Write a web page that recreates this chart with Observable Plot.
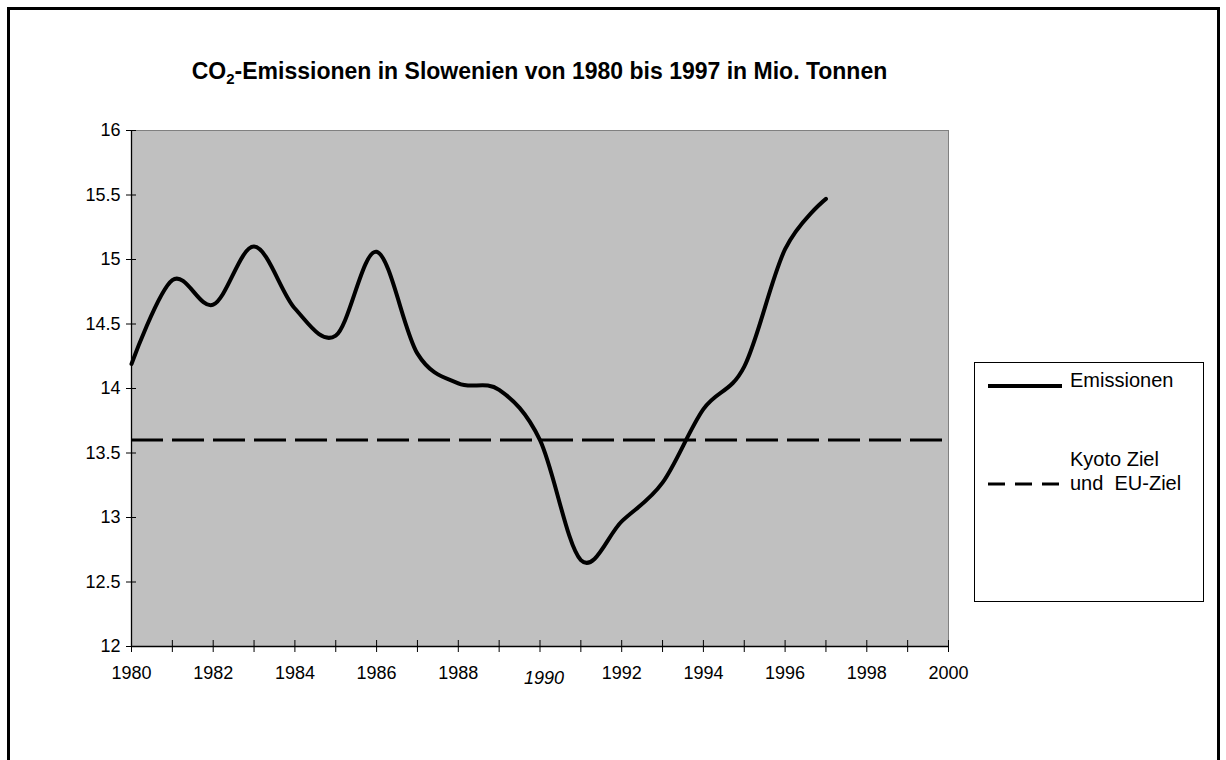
<!DOCTYPE html>
<html><head><meta charset="utf-8">
<script src="https://cdn.jsdelivr.net/npm/d3@7"></script>
<script src="https://cdn.jsdelivr.net/npm/@observablehq/plot@0.6"></script>
<style>
body{margin:0;background:#fff;font-family:"Liberation Sans",Arial,sans-serif;}
#wrap{position:relative;width:1226px;height:760px;overflow:hidden;background:#fff;}
#chart{position:absolute;left:0;top:0;}
#border{position:absolute;left:7px;top:7px;width:1213px;height:800px;border:3px solid #000;box-sizing:border-box;}
#title{position:absolute;left:131px;width:817px;top:57px;text-align:center;font-weight:bold;font-size:23px;line-height:28px;color:#000;}
#legend{position:absolute;left:974px;top:362px;width:230px;height:240px;border:1px solid #000;box-sizing:border-box;background:#fff;font-size:20px;}
#legend svg{position:absolute;left:13px;}
#legend .lab{position:absolute;left:95px;line-height:24px;white-space:pre;}
</style>
</head><body>
<div id="wrap">
  <div id="border"></div>
  <div id="chart"></div>
  <div id="title">CO<sub style="font-size:15px;vertical-align:-5px;line-height:0;">2</sub>-Emissionen in Slowenien von 1980 bis 1997 in Mio. Tonnen</div>
  <div id="legend"></div>
</div>
<script>
// ---- data ----
const years = [1980,1981,1982,1983,1984,1985,1986,1987,1988,1989,1990,1991,1992,1993,1994,1995,1996,1997];
const emissions = [14.19,14.84,14.65,15.10,14.62,14.41,15.06,14.27,14.04,13.99,13.60,12.67,12.97,13.27,13.84,14.17,15.08,15.47];
const kyotoTarget = 13.6;
const yTicks = [12,12.5,13,13.5,14,14.5,15,15.5,16];
const xTickYears = [1980,1981,1982,1983,1984,1985,1986,1987,1988,1989,1990,1991,1992,1993,1994,1995,1996,1997,1998,1999,2000];
const xLabelYears = [1980,1982,1984,1986,1988,1992,1994,1996,1998,2000];
const xItalicYears = [1990];
const seriesNames = ["Emissionen", "Kyoto Ziel\nund  EU-Ziel"];

const data = years.map((y,i)=>({year:y, value:emissions[i]}));

const font = "Liberation Sans, Arial, sans-serif";
const chart = Plot.plot({
  width: 1226, height: 760,
  marginLeft: 131, marginRight: 278, marginTop: 130, marginBottom: 114,
  style: {fontFamily: font, fontSize: "18px", color: "#000", background: "transparent"},
  x: {domain: [1980, 2000]},
  y: {domain: [12, 16]},
  marks: [
    Plot.frame({fill: "#c0c0c0", stroke: "#808080"}),
    Plot.ruleY([kyotoTarget], {stroke: "#000", strokeWidth: 3, strokeDasharray: "32,9"}),
    Plot.line(data, {x: "year", y: "value", curve: "cardinal", tension: 0, stroke: "#000", strokeWidth: 4}),
    Plot.ruleX([1980], {stroke: "#000", strokeWidth: 1.3}),
    Plot.ruleY([12], {stroke: "#000", strokeWidth: 1.3}),
    Plot.axisY({ticks: yTicks, tickSize: 10, dx: 5, tickPadding: 6, fontSize: 18, tickFormat: d => String(d), label: null}),
    Plot.axisX({ticks: xTickYears, tickSize: 12, dy: -6, tickFormat: () => "", label: null}),
    Plot.axisX({ticks: xLabelYears, tickSize: 0, tickPadding: 20, fontSize: 18, tickFormat: d => String(d), label: null}),
    Plot.axisX({ticks: xItalicYears, tickSize: 0, tickPadding: 25, dx: 4, fontSize: 18, fontStyle: "italic", tickFormat: d => String(d), label: null})
  ]
});
document.getElementById("chart").appendChild(chart);

// legend
const lg = document.getElementById("legend");
lg.innerHTML = `
  <svg width="76" height="8" style="top:19px"><line x1="0" x2="74" y1="4" y2="4" stroke="#000" stroke-width="4"/></svg>
  <div class="lab" style="top:5px">${seriesNames[0]}</div>
  <svg width="76" height="8" style="top:117px"><line x1="0" x2="72" y1="4" y2="4" stroke="#000" stroke-width="3" stroke-dasharray="17,10"/></svg>
  <div class="lab" style="top:84px">${seriesNames[1]}</div>`;
</script>
</body></html>
